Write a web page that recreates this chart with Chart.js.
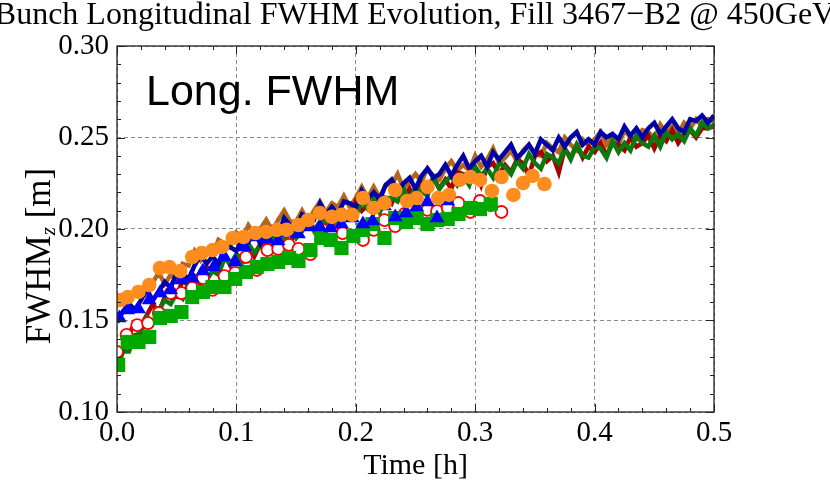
<!DOCTYPE html>
<html><head><meta charset="utf-8">
<script src="https://cdn.jsdelivr.net/npm/chart.js@4.4.1/dist/chart.umd.min.js"></script>
<style>html,body{margin:0;padding:0;background:#fff;overflow:hidden}</style>
</head><body>
<canvas id="c" width="830" height="492"></canvas>
<script>
// ---- data ----
const lineTimes = [0,0.005,0.01,0.015,0.02,0.025,0.03,0.035,0.04,0.045,0.05,0.055,0.06,0.065,0.07,0.075,0.08,0.085,0.09,0.095,
0.1,0.105,0.11,0.115,0.12,0.125,0.13,0.135,0.14,0.145,0.15,0.155,0.16,0.165,0.17,0.175,0.18,0.185,0.19,0.195,
0.2,0.205,0.21,0.215,0.22,0.225,0.23,0.235,0.24,0.245,0.25,0.255,0.26,0.265,0.27,0.275,0.28,0.285,0.29,0.295,
0.3,0.305,0.31,0.315,0.32,0.325,0.33,0.335,0.34,0.345,0.35,0.355,0.36,0.365,0.37,0.375,0.38,0.385,0.39,0.395,
0.4,0.405,0.41,0.415,0.42,0.425,0.43,0.435,0.44,0.445,0.45,0.455,0.46,0.465,0.47,0.475,0.48,0.485,0.49,0.495,0.5];

const brownLine = [0.158,0.162,0.159,0.167,0.164,0.164,0.171,0.176,0.170,0.175,0.172,0.181,0.180,0.188,0.183,0.188,0.185,0.194,0.192,0.191,
0.198,0.195,0.202,0.197,0.200,0.205,0.199,0.205,0.210,0.204,0.204,0.210,0.204,0.210,0.215,0.209,0.214,0.212,0.218,0.212,
0.217,0.223,0.217,0.223,0.217,0.224,0.224,0.230,0.222,0.226,0.230,0.226,0.233,0.229,0.227,0.233,0.237,0.232,0.235,0.232,
0.240,0.234,0.238,0.244,0.236,0.239,0.243,0.237,0.243,0.246,0.241,0.240,0.247,0.244,0.242,0.250,0.246,0.243,0.249,0.246,
0.249,0.253,0.246,0.250,0.246,0.254,0.250,0.249,0.254,0.253,0.249,0.257,0.252,0.256,0.252,0.258,0.255,0.260,0.256,0.260,0.259];

const blueLine = [0.149,0.155,0.159,0.156,0.161,0.167,0.161,0.166,0.171,0.168,0.176,0.175,0.173,0.180,0.186,0.181,0.185,0.181,0.190,0.190,
0.188,0.195,0.193,0.199,0.192,0.198,0.201,0.197,0.206,0.202,0.200,0.208,0.206,0.205,0.214,0.208,0.212,0.208,0.215,0.214,
0.212,0.221,0.216,0.220,0.216,0.224,0.227,0.221,0.225,0.228,0.222,0.229,0.233,0.228,0.230,0.235,0.229,0.235,0.240,0.233,
0.237,0.240,0.234,0.242,0.238,0.242,0.246,0.239,0.242,0.246,0.241,0.249,0.246,0.243,0.250,0.245,0.250,0.253,0.246,0.249,
0.246,0.253,0.250,0.252,0.249,0.256,0.251,0.255,0.250,0.255,0.258,0.252,0.256,0.260,0.255,0.253,0.260,0.259,0.262,0.258,0.262];

const redLine = [0.132,0.133,0.142,0.149,0.147,0.153,0.159,0.154,0.163,0.164,0.163,0.172,0.169,0.174,0.170,0.179,0.178,0.178,0.186,0.180,
0.186,0.184,0.192,0.185,0.192,0.192,0.190,0.198,0.197,0.192,0.201,0.199,0.205,0.200,0.203,0.208,0.202,0.208,0.210,0.206,
0.215,0.210,0.213,0.209,0.218,0.217,0.214,0.222,0.217,0.222,0.215,0.225,0.223,0.228,0.222,0.227,0.222,0.231,0.230,0.225,
0.233,0.224,0.234,0.236,0.230,0.235,0.231,0.238,0.236,0.229,0.240,0.242,0.237,0.240,0.231,0.244,0.239,0.246,0.239,0.245,
0.242,0.247,0.240,0.247,0.246,0.243,0.250,0.245,0.247,0.251,0.244,0.251,0.248,0.254,0.247,0.252,0.254,0.250,0.255,0.255,0.256];

const greenLine = [0.123,0.133,0.133,0.142,0.143,0.152,0.149,0.156,0.161,0.159,0.165,0.162,0.171,0.170,0.177,0.172,0.177,0.175,0.184,0.181,
0.186,0.182,0.192,0.187,0.191,0.187,0.195,0.196,0.193,0.200,0.195,0.199,0.205,0.199,0.204,0.203,0.209,0.202,0.209,0.209,
0.207,0.215,0.211,0.216,0.209,0.217,0.217,0.215,0.222,0.216,0.223,0.221,0.218,0.228,0.222,0.226,0.229,0.224,0.229,0.224,
0.234,0.229,0.233,0.228,0.236,0.234,0.230,0.237,0.233,0.241,0.236,0.233,0.241,0.239,0.236,0.244,0.238,0.246,0.240,0.239,
0.245,0.244,0.239,0.248,0.242,0.247,0.243,0.251,0.247,0.245,0.251,0.245,0.253,0.249,0.252,0.248,0.255,0.251,0.258,0.255,0.257];

const orangeTimes = [0.003,0.009,0.018,0.027,0.036,0.044,0.053,0.063,0.071,0.080,0.088,0.097,0.106,0.116,0.125,0.134,0.142,0.152,0.160,0.170,
0.180,0.188,0.197,0.206,0.215,0.224,0.233,0.243,0.251,0.260,0.269,0.278,0.287,0.296,0.304,0.314,0.322,0.332,0.340,0.348,0.358];
const orangeValues = [0.1612,0.1628,0.1656,0.1694,0.1787,0.1792,0.1770,0.1847,0.1869,0.1885,0.1902,0.1951,0.1956,0.1978,0.1984,0.1995,0.1995,0.2022,0.2049,0.2087,
0.2066,0.2077,0.2077,0.2169,0.2115,0.2142,0.2213,0.2153,0.2169,0.2230,0.2169,0.2186,0.2268,0.2284,0.2268,0.2208,0.2284,0.2186,0.2251,0.2290,0.2246];

const triTimes = [0.002,0.009,0.018,0.027,0.036,0.045,0.054,0.063,0.072,0.081,0.090,0.099,0.107,0.116,0.126,0.135,0.143,0.152,0.161,0.170,
0.179,0.188,0.197,0.206,0.214,0.224,0.233,0.242,0.251,0.260,0.268,0.277];
const triValues = [0.1514,0.1557,0.1563,0.1612,0.1650,0.1667,0.1721,0.1732,0.1770,0.1792,0.1847,0.1820,0.1902,0.1956,0.1945,0.1934,0.1978,0.1973,0.2011,0.2011,
0.2005,0.2027,0.2060,0.2027,0.2044,0.2126,0.2066,0.2087,0.2120,0.2148,0.2060,0.2153];

const ringTimes = [0.000,0.008,0.017,0.026,0.035,0.045,0.054,0.063,0.072,0.080,0.090,0.099,0.108,0.117,0.126,0.135,0.144,0.152,0.162,0.172,
0.180,0.189,0.198,0.206,0.215,0.224,0.233,0.241,0.250,0.260,0.268,0.277,0.286,0.296,0.304,0.313,0.322];
const ringValues = [0.1328,0.1421,0.1475,0.1486,0.1541,0.1650,0.1650,0.1678,0.1732,0.1667,0.1743,0.1760,0.1847,0.1776,0.1885,0.1891,0.1913,0.1891,0.1863,0.1995,
0.1989,0.1978,0.1962,0.1940,0.1995,0.2049,0.2016,0.2082,0.2082,0.2104,0.2098,0.2115,0.2142,0.2093,0.2153,0.2131,0.2093];

const squareTimes = [0.001,0.009,0.018,0.027,0.036,0.045,0.054,0.063,0.072,0.080,0.090,0.099,0.108,0.117,0.126,0.135,0.144,0.152,0.162,0.171,
0.179,0.188,0.198,0.206,0.214,0.224,0.233,0.242,0.251,0.260,0.268,0.277,0.286,0.296,0.304,0.313];
const squareValues = [0.1257,0.1383,0.1383,0.1410,0.1514,0.1525,0.1546,0.1628,0.1656,0.1683,0.1683,0.1727,0.1765,0.1792,0.1809,0.1820,0.1842,0.1825,0.1885,0.1951,
0.1940,0.1896,0.1962,0.1995,0.2027,0.1951,0.2060,0.2038,0.2060,0.2027,0.2049,0.2055,0.2082,0.2115,0.2109,0.2137];

const titleText = 'Bunch Longitudinal FWHM Evolution, Fill 3467\u2212B2 @ 450GeV';
const panelLabel = 'Long. FWHM';
const xTitle = 'Time [h]';
const yTitleMain = 'FWHM', yTitleSub = 'z', yTitleUnit = ' [m]';

// ---- chart ----
const SERIF = '"Liberation Serif", "DejaVu Serif", serif';
const pts = (xs, ys) => xs.map((x, i) => ({x: x, y: ys[i]}));

const decor = {
  id: 'decor',
  beforeDraw(chart) {
    const ctx = chart.ctx;
    ctx.save(); ctx.fillStyle = '#fff'; ctx.fillRect(0, 0, chart.width, chart.height); ctx.restore();
  },
  afterDatasetsDraw(chart) {
    const {ctx, chartArea: a, scales: {x, y}} = chart;
    ctx.save();
    ctx.strokeStyle = '#222'; ctx.lineWidth = 1.3;
    ctx.strokeRect(a.left, a.top, a.right - a.left, a.bottom - a.top);
    ctx.lineWidth = 1;
    ctx.beginPath();
    for (let k = 0; k <= 25; k++) {
      const px = Math.round(x.getPixelForValue(k * 0.02)) + 0.5;
      const len = k % 5 === 0 ? 8 : 4;
      ctx.moveTo(px, a.bottom); ctx.lineTo(px, a.bottom - len);
      ctx.moveTo(px, a.top); ctx.lineTo(px, a.top + len);
    }
    for (let k = 0; k <= 20; k++) {
      const py = Math.round(y.getPixelForValue(0.10 + k * 0.01)) + 0.5;
      const len = k % 5 === 0 ? 8 : 4;
      ctx.moveTo(a.left, py); ctx.lineTo(a.left + len, py);
      ctx.moveTo(a.right, py); ctx.lineTo(a.right - len, py);
    }
    ctx.stroke();
    // title
    ctx.fillStyle = '#000';
    ctx.font = '32px ' + SERIF;
    ctx.textAlign = 'center'; ctx.textBaseline = 'alphabetic';
    ctx.fillText(titleText, 415, 24);
    // panel label
    ctx.font = '43px "Liberation Sans", Arial, sans-serif';
    ctx.textAlign = 'left';
    ctx.fillText(panelLabel, 146, 105);
    // y title
    ctx.translate(50, 256);
    ctx.rotate(-Math.PI / 2);
    const fMain = '35px ' + SERIF, fSub = 'italic 21px ' + SERIF;
    ctx.font = fMain; const w1 = ctx.measureText(yTitleMain).width, w3 = ctx.measureText(yTitleUnit).width;
    ctx.font = fSub; const w2 = ctx.measureText(yTitleSub).width;
    let s = -(w1 + w2 + w3) / 2;
    ctx.font = fMain; ctx.fillText(yTitleMain, s, 0);
    ctx.font = fSub; ctx.fillText(yTitleSub, s + w1, 5);
    ctx.font = fMain; ctx.fillText(yTitleUnit, s + w1 + w2, 0);
    ctx.restore();
  }
};

const lineDs = (label, data, color, order) => ({
  label, data: pts(lineTimes, data), borderColor: color, backgroundColor: color,
  borderWidth: 4.5, pointRadius: 0, tension: 0, showLine: true, order
});
const markDs = (label, xs, ys, style, radius, fill, border, bw, order) => ({
  label, data: pts(xs, ys), showLine: false, pointStyle: style, pointRadius: radius,
  pointBackgroundColor: fill, pointBorderColor: border, pointBorderWidth: bw,
  backgroundColor: fill, borderColor: border, order
});

new Chart(document.getElementById('c'), {
  type: 'line',
  data: {
    datasets: [
      lineDs('B2 brown', brownLine, '#B4661C', 8),
      lineDs('B2 red', redLine, '#A80000', 7),
      lineDs('B2 green', greenLine, '#0A7A0A', 6),
      lineDs('B2 blue', blueLine, '#0000A8', 5),
      markDs('red rings', ringTimes, ringValues, 'circle', 6, '#ffffff', '#FF0000', 1.8, 4),
      markDs('green squares', squareTimes, squareValues, 'rect', 10, '#00A800', '#00A800', 0, 3),
      markDs('blue triangles', triTimes, triValues, 'triangle', 8.5, '#0000FF', '#0000FF', 0, 2),
      markDs('orange circles', orangeTimes, orangeValues, 'circle', 7.3, '#FF8C1E', '#FF8C1E', 0, 1)
    ]
  },
  options: {
    responsive: false, animation: false, devicePixelRatio: 1,
    layout: {padding: {left: 0, right: 116, top: 46, bottom: 0}},
    plugins: {legend: {display: false}, tooltip: {enabled: false}, title: {display: false}},
    scales: {
      x: {
        type: 'linear', min: 0, max: 0.5,
        ticks: {stepSize: 0.1, color: '#000', padding: 4, font: {family: SERIF, size: 29},
          callback: v => Number(v).toFixed(1), maxRotation: 0},
        grid: {color: '#8c8c8c', lineWidth: 1, drawTicks: false},
        border: {display: false, dash: [4, 3]},
        title: {display: true, text: xTitle, color: '#000', font: {family: SERIF, size: 30}, padding: {top: 0, bottom: 8}},
        afterFit: s => { s.height = 80; }
      },
      y: {
        min: 0.10, max: 0.30,
        ticks: {stepSize: 0.05, color: '#000', padding: 8, font: {family: SERIF, size: 29},
          callback: v => Number(v).toFixed(2)},
        grid: {color: '#8c8c8c', lineWidth: 1, drawTicks: false},
        border: {display: false, dash: [4, 3]},
        afterFit: s => { s.width = 117; }
      }
    }
  },
  plugins: [decor]
});
</script>
</body></html>
